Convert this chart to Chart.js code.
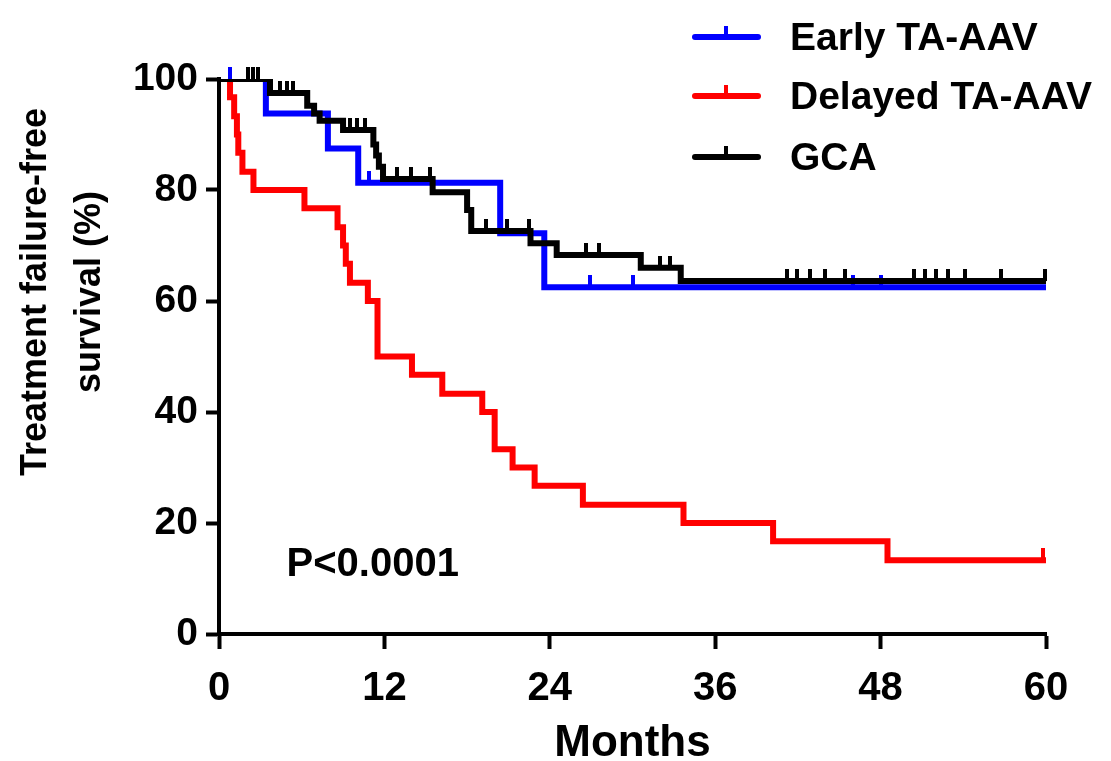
<!DOCTYPE html>
<html>
<head>
<meta charset="utf-8">
<title>Treatment failure-free survival</title>
<script src="https://cdn.jsdelivr.net/npm/chart.js@4.4.0/dist/chart.umd.min.js"></script>
<style>
  body { margin: 0; background: #fff; }
  #chart { display: block; }
</style>
</head>
<body>
<canvas id="chart" width="1111" height="761"></canvas>
<script>
// ===== Data =====
let seriesNames = ["Early TA-AAV", "Delayed TA-AAV", "GCA"];
let seriesColors = ["#0000ff", "#ff0000", "#000000"];

// Kaplan-Meier steps (months, % free of treatment failure)
let earlyTimes = [0, 3.4, 7.9, 10.1, 20.4, 23.6, 60];
let earlySurv = [100, 93.8, 87.5, 81.3, 72.2, 62.5, 62.5];
let earlyCensor = [0.8, 10.9, 26.9, 30.0, 46.0, 48.0];

let delayedTimes = [0, 0.8, 1.1, 1.3, 1.4, 1.7, 2.5, 6.2, 8.6, 9.0, 9.2, 9.5, 10.8, 11.5, 14.0, 16.2, 19.1, 20.0, 21.3, 22.9, 26.4, 33.7, 40.2, 48.5, 60];
let delayedSurv = [100, 96.7, 93.3, 90, 86.7, 83.3, 80, 76.7, 73.3, 70, 66.7, 63.3, 60, 50, 46.7, 43.3, 40, 33.3, 30, 26.7, 23.3, 20, 16.7, 13.3, 13.3];
let delayedCensor = [59.8];

let gcaTimes = [0, 3.7, 6.4, 6.9, 7.3, 9.0, 11.2, 11.4, 11.6, 11.9, 15.5, 18.0, 18.3, 22.6, 24.5, 30.6, 33.5, 60];
let gcaSurv = [100, 97.5, 95.2, 93.8, 92.5, 90.8, 88.2, 86.2, 84.2, 82.0, 79.6, 76.4, 72.6, 70.4, 68.3, 66.0, 63.6, 63.6];
let gcaCensor = [2.1, 2.5, 2.8, 4.4, 4.9, 5.4, 9.5, 10.0, 10.6, 12.9, 13.9, 15.3, 19.4, 20.9, 22.5, 26.6, 27.6, 32.0, 32.7,
  41.2, 41.9, 42.9, 44.0, 45.4, 50.4, 51.2, 52.0, 52.9, 54.1, 56.7, 59.9];

let xTicks = [0, 12, 24, 36, 48, 60];
let yTicks = [0, 20, 40, 60, 80, 100];
let xTitle = "Months";
let yTitle = ["Treatment failure-free", "survival (%)"];
let pText = "P<0.0001";

// ===== Helpers =====
let FONT = "'Liberation Sans', Arial, Helvetica, sans-serif";

function survAt(times, surv, t) {
  let s = surv[0];
  for (let i = 0; i < times.length; i++) {
    if (times[i] <= t) s = surv[i];
  }
  return s;
}

// censor mark: short bar sitting on top of the line
function censorMark(color) {
  let c = document.createElement("canvas");
  c.width = 4;
  c.height = 24;
  let g = c.getContext("2d");
  g.fillStyle = color;
  g.fillRect(0, 0, 4, 12);
  return c;
}

function stepSet(i, times, surv) {
  return {
    label: seriesNames[i],
    data: times.map((t, k) => ({ x: t, y: surv[k] })),
    borderColor: seriesColors[i],
    borderWidth: 6,
    stepped: true,
    pointRadius: 0,
    fill: false,
    borderJoinStyle: "miter",
    borderCapStyle: "butt",
    order: 3 - i
  };
}

function censorSet(i, times, surv, cens) {
  return {
    label: seriesNames[i] + " censored",
    data: cens.map(t => ({ x: t, y: survAt(times, surv, t) })),
    showLine: false,
    pointStyle: censorMark(seriesColors[i]),
    pointRadius: 3,
    borderColor: seriesColors[i],
    backgroundColor: seriesColors[i],
    clip: false,
    order: 3 - i
  };
}

// ===== Overlay: legend, y title, p value =====
let overlay = {
  id: "overlay",
  afterDraw(chart) {
    let ctx = chart.ctx;
    let xs = chart.scales.x, ys = chart.scales.y;
    ctx.save();

    // legend
    let rows = [37, 96, 157];
    seriesNames.forEach((name, i) => {
      let y = rows[i];
      ctx.strokeStyle = seriesColors[i];
      ctx.lineWidth = 6;
      ctx.lineCap = "round";
      ctx.beginPath();
      ctx.moveTo(695, y);
      ctx.lineTo(758, y);
      ctx.stroke();
      ctx.fillStyle = seriesColors[i];
      ctx.fillRect(724, y - 11, 4, 11);
      ctx.fillStyle = "#000";
      ctx.font = "bold 39px " + FONT;
      ctx.textAlign = "left";
      ctx.textBaseline = "middle";
      ctx.fillText(name, 790, y + 2);
    });

    // y title (two lines, rotated)
    ctx.font = "bold 36px " + FONT;
    ctx.textAlign = "center";
    ctx.textBaseline = "middle";
    ctx.fillStyle = "#000";
    [36, 90].forEach((cx, k) => {
      ctx.save();
      ctx.translate(cx, 292);
      ctx.rotate(-Math.PI / 2);
      ctx.fillText(yTitle[k], 0, 0);
      ctx.restore();
    });

    // p value
    ctx.font = "bold 40px " + FONT;
    ctx.textAlign = "left";
    ctx.fillText(pText, xs.getPixelForValue(4.9), ys.getPixelForValue(12.4));
    ctx.restore();
  }
};

// ===== Chart =====
let datasets = [
  stepSet(0, earlyTimes, earlySurv),
  stepSet(1, delayedTimes, delayedSurv),
  stepSet(2, gcaTimes, gcaSurv),
  censorSet(0, earlyTimes, earlySurv, earlyCensor),
  censorSet(1, delayedTimes, delayedSurv, delayedCensor),
  censorSet(2, gcaTimes, gcaSurv, gcaCensor)
];

new Chart(document.getElementById("chart"), {
  type: "line",
  data: { datasets: datasets },
  options: {
    responsive: false,
    animation: false,
    layout: { padding: { top: 79, right: 65, left: 0, bottom: 0 } },
    plugins: {
      legend: { display: false },
      tooltip: { enabled: false }
    },
    scales: {
      x: {
        type: "linear",
        min: 0,
        max: 60,
        afterBuildTicks: s => { s.ticks = xTicks.map(v => ({ value: v })); },
        afterFit: s => { s.height = 127; },
        grid: { drawOnChartArea: false, tickLength: 15, tickWidth: 4, tickColor: "#000" },
        border: { color: "#000", width: 4 },
        ticks: {
          color: "#000",
          padding: 16,
          maxRotation: 0,
          font: { family: FONT, weight: "bold", size: 40 }
        },
        title: {
          display: true,
          text: xTitle,
          color: "#000",
          padding: { top: 6, bottom: -9 },
          font: { family: FONT, weight: "bold", size: 44 }
        }
      },
      y: {
        min: 0,
        max: 100,
        afterBuildTicks: s => { s.ticks = yTicks.map(v => ({ value: v })); },
        afterFit: s => { s.width = 219; },
        grid: { drawOnChartArea: false, tickLength: 13, tickWidth: 4, tickColor: "#000" },
        border: { color: "#000", width: 4 },
        ticks: {
          color: "#000",
          padding: 8,
          font: { family: FONT, weight: "bold", size: 39 }
        }
      }
    }
  },
  plugins: [overlay]
});
</script>
</body>
</html>
